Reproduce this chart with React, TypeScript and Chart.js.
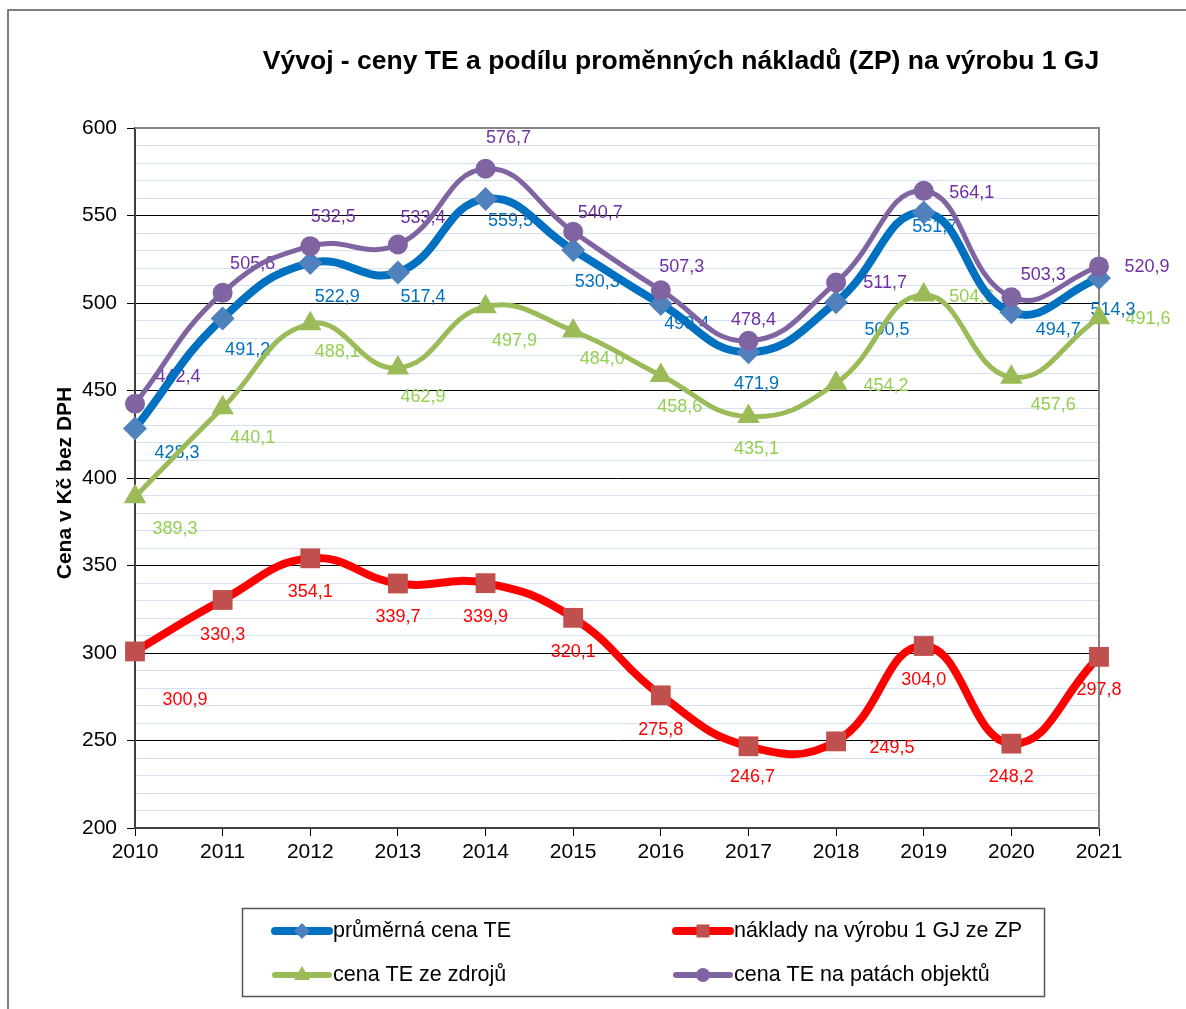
import React, { useEffect, useRef } from 'react';
import { Chart, registerables } from 'chart.js';

Chart.register(...registerables);

const FONT = '"Liberation Sans", Arial, Helvetica, sans-serif';

const years = ['2010', '2011', '2012', '2013', '2014', '2015', '2016', '2017', '2018', '2019', '2020', '2021'];
const avgPrice = [428.3, 491.2, 522.9, 517.4, 559.5, 530.3, 499.4, 471.9, 500.5, 551.7, 494.7, 514.3];
const gasCost = [300.9, 330.3, 354.1, 339.7, 339.9, 320.1, 275.8, 246.7, 249.5, 304.0, 248.2, 297.8];
const sourcePrice = [389.3, 440.1, 488.1, 462.9, 497.9, 484.0, 458.6, 435.1, 454.2, 504.6, 457.6, 491.6];
const buildingPrice = [442.4, 505.8, 532.5, 533.4, 576.7, 540.7, 507.3, 478.4, 511.7, 564.1, 503.3, 520.9];

const seriesNames = [
  'průměrná cena TE',
  'náklady na výrobu 1 GJ ze ZP',
  'cena TE ze zdrojů',
  'cena TE na patách objektů',
];
const chartTitle = 'Vývoj - ceny TE a podílu proměnných nákladů (ZP) na výrobu 1 GJ';
const yAxisTitle = 'Cena v Kč bez DPH';
const yMin = 200;
const yMax = 600;

// data label offsets (px) relative to the point, per series
const avgLabelOffsets = [[42, 25], [25, 32], [27, 34], [25, 24], [25, 22], [24, 32], [26, 20], [8, 32], [51, 28], [11, 15], [47, 18], [14, 32]];
const gasLabelOffsets = [[50, 49], [0, 35], [0, 34], [0, 34], [0, 34], [0, 34], [0, 35], [4, 31], [56, 7], [0, 34], [0, 33], [0, 33]];
const sourceLabelOffsets = [[40, 32], [30, 30], [27, 28], [25, 29], [29, 34], [29, 28], [19, 32], [8, 32], [50, 3], [48, 2], [42, 28], [49, 1]];
const buildingLabelOffsets = [[43, -27], [30, -29], [23, -29], [25, -27], [23, -31], [27, -19], [21, -23], [5, -21], [49, 1], [48, 2], [32, -22], [48, 1]];

const lineColors = ['#0070C0', '#FF0000', '#9BBB59', '#8064A2'];
const markerColors = ['#4F81BD', '#C0504D', '#9BBB59', '#8064A2'];
const labelColors = ['#0070C0', '#FF0000', '#92D050', '#7030A0'];

const fmt = (v: number) => v.toFixed(1).replace('.', ',');

const decorPlugin = {
  id: 'decor',
  beforeDraw(chart: any) {
    const ctx = chart.ctx;
    ctx.save();
    ctx.fillStyle = '#ffffff';
    ctx.fillRect(0, 0, chart.width, chart.height);
    // outer frame
    ctx.strokeStyle = '#555555';
    ctx.lineWidth = 1.5;
    ctx.beginPath();
    ctx.moveTo(8, chart.height);
    ctx.lineTo(8, 10);
    ctx.lineTo(chart.width, 10);
    ctx.stroke();
    // title
    ctx.fillStyle = '#000';
    ctx.font = `bold 26.5px ${FONT}`;
    ctx.textAlign = 'center';
    ctx.textBaseline = 'middle';
    ctx.fillText(chartTitle, 681, 62);
    // y axis title
    ctx.translate(65, 483);
    ctx.rotate(-Math.PI / 2);
    ctx.font = `bold 21px ${FONT}`;
    ctx.fillText(yAxisTitle, 0, 0);
    ctx.restore();
  },
  beforeDatasetsDraw(chart: any) {
    const ctx = chart.ctx;
    const a = chart.chartArea;
    ctx.save();
    ctx.strokeStyle = '#868686';
    ctx.lineWidth = 2;
    ctx.beginPath();
    ctx.moveTo(a.left, a.top);
    ctx.lineTo(a.right, a.top);
    ctx.lineTo(a.right, a.bottom);
    ctx.stroke();
    // data labels (drawn beneath the lines, as in the original)
    const offsetsBy = [avgLabelOffsets, gasLabelOffsets, sourceLabelOffsets, buildingLabelOffsets];
    const drawOrder = [3, 2, 1, 0];
    ctx.font = `18px ${FONT}`;
    ctx.textAlign = 'center';
    ctx.textBaseline = 'middle';
    for (const di of drawOrder) {
      const meta = chart.getDatasetMeta(di);
      const values = chart.data.datasets[di].data as number[];
      ctx.fillStyle = labelColors[di];
      meta.data.forEach((pt: any, i: number) => {
        const off = offsetsBy[di][i];
        ctx.fillText(fmt(values[i]), pt.x + off[0], pt.y + off[1]);
      });
    }
    ctx.restore();
  },
  afterDraw(chart: any) {
    const ctx = chart.ctx;
    ctx.save();
    ctx.strokeStyle = '#555555';
    ctx.lineWidth = 1.5;
    ctx.strokeRect(242.5, 908.5, 802, 88);
    const items = [
      { x: 273, y: 931, i: 0 },
      { x: 674, y: 931, i: 1 },
      { x: 273, y: 975, i: 2 },
      { x: 674, y: 975, i: 3 },
    ];
    const widths = [8, 8, 6, 6];
    for (const it of items) {
      ctx.strokeStyle = lineColors[it.i];
      ctx.lineWidth = widths[it.i];
      ctx.lineCap = 'round';
      ctx.beginPath();
      ctx.moveTo(it.x + 2, it.y);
      ctx.lineTo(it.x + 56, it.y);
      ctx.stroke();
      const cx = it.x + 29;
      ctx.fillStyle = markerColors[it.i];
      ctx.beginPath();
      if (it.i === 0) {
        ctx.moveTo(cx, it.y - 8);
        ctx.lineTo(cx + 8, it.y);
        ctx.lineTo(cx, it.y + 8);
        ctx.lineTo(cx - 8, it.y);
        ctx.closePath();
      } else if (it.i === 1) {
        ctx.rect(cx - 6.5, it.y - 6.5, 13, 13);
      } else if (it.i === 2) {
        ctx.moveTo(cx, it.y - 9);
        ctx.lineTo(cx + 8, it.y + 5);
        ctx.lineTo(cx - 8, it.y + 5);
        ctx.closePath();
      } else {
        ctx.arc(cx, it.y, 7, 0, Math.PI * 2);
      }
      ctx.fill();
      ctx.fillStyle = '#000';
      ctx.font = `21.5px ${FONT}`;
      ctx.textAlign = 'left';
      ctx.textBaseline = 'middle';
      ctx.fillText(seriesNames[it.i], it.x + 60, it.y);
    }
    ctx.restore();
  },
};

export default function App() {
  const ref = useRef<HTMLCanvasElement | null>(null);

  useEffect(() => {
    if (!ref.current) return;
    const tension = 0.45;
    const mk = (i: number, data: number[], style: string, radius: number, width: number, order: number) => ({
      label: seriesNames[i],
      data,
      borderColor: lineColors[i],
      backgroundColor: markerColors[i],
      borderWidth: width,
      borderCapStyle: 'round',
      borderJoinStyle: 'round',
      pointStyle: style,
      pointRadius: radius,
      pointBackgroundColor: markerColors[i],
      pointBorderColor: markerColors[i],
      pointBorderWidth: 0,
      tension,
      fill: false,
      order,
    });
    const chart = new Chart(ref.current, {
      type: 'line',
      data: {
        labels: years,
        datasets: [
          mk(0, avgPrice, 'rectRot', 12, 8, 4),
          mk(1, gasCost, 'rect', 14, 8, 3),
          mk(2, sourcePrice, 'triangle', 13, 5, 2),
          mk(3, buildingPrice, 'circle', 10, 5, 1),
        ] as any,
      },
      plugins: [decorPlugin],
      options: {
        animation: false,
        responsive: false,
        devicePixelRatio: 1,
        layout: { padding: { top: 128, right: 87, left: 0, bottom: 0 } },
        plugins: {
          legend: { display: false },
          title: { display: false },
          tooltip: { enabled: false },
        },
        scales: {
          x: {
            type: 'category',
            offset: false,
            afterFit: (s: any) => {
              s.height = 1009 - 828;
            },
            ticks: {
              font: { size: 21, family: FONT },
              color: '#000',
              padding: 4,
              maxRotation: 0,
              autoSkip: false,
            },
            grid: {
              drawOnChartArea: false,
              drawTicks: true,
              tickLength: 8,
              tickColor: '#000',
              offset: false,
            },
            border: { color: '#404040', width: 2 },
          },
          y: {
            type: 'linear',
            min: yMin,
            max: yMax,
            afterFit: (s: any) => {
              s.width = 135;
            },
            ticks: {
              stepSize: 10,
              maxTicksLimit: 100,
              autoSkip: false,
              callback: (v: any) => (Math.round(v) % 50 === 0 ? String(Math.round(v)) : ''),
              font: { size: 21, family: FONT },
              color: '#000',
              padding: 10,
            },
            grid: {
              color: (c: any) => (c.tick && Math.round(c.tick.value) % 50 === 0 ? '#000000' : '#d6e0f3'),
              lineWidth: 1,
              tickLength: 8,
              tickColor: (c: any) => (c.tick && Math.round(c.tick.value) % 50 === 0 ? '#000000' : 'rgba(0,0,0,0)'),
            },
            border: { color: '#404040', width: 2 },
          },
        },
      } as any,
    });
    return () => chart.destroy();
  }, []);

  return (
    <div style={{ position: 'absolute', left: 0, top: 0, width: 1186, height: 1009 }}>
      <canvas ref={ref} width={1186} height={1009} style={{ display: 'block' }} />
    </div>
  );
}
